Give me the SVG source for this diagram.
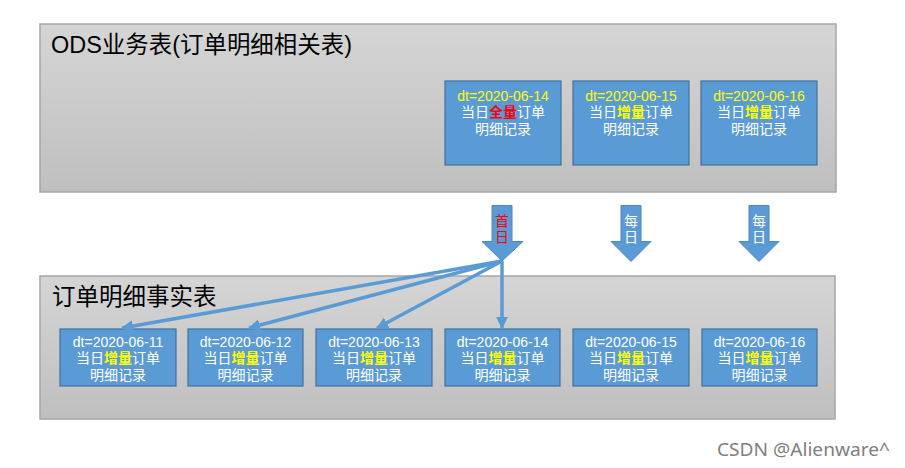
<svg xmlns="http://www.w3.org/2000/svg" width="905" height="468" viewBox="0 0 905 468">
<defs>
<linearGradient id="g" x1="0" y1="0" x2="0" y2="1">
<stop offset="0" stop-color="#d5d5d5"/>
<stop offset="1" stop-color="#bfbfbf"/>
</linearGradient>
<marker id="ah" markerUnits="userSpaceOnUse" markerWidth="12" markerHeight="12" viewBox="0 0 12 12" refX="11" refY="6" orient="auto">
<path d="M0,0 L12,6 L0,12 Z" fill="#5b9bd5"/>
</marker>
<style>
.cont{fill:url(#g);stroke:#a6a6a6;stroke-width:1.5}
.box{fill:#5b9bd5;stroke:#41719c;stroke-width:1.2}
.arr{fill:#5b9bd5;stroke:#4f88bd;stroke-width:1}
.t{font-family:"Liberation Sans","Noto Sans CJK SC",sans-serif;font-size:14px;fill:#ffffff;text-anchor:middle}
.y{fill:#ffff00}
.b{font-weight:bold}
.r{fill:#ff0000}
.title{font-family:"Liberation Sans","Noto Sans CJK SC",sans-serif;font-size:23.5px;fill:#000000}
.conn{stroke:#5b9bd5;stroke-width:3.5;fill:none;marker-end:url(#ah)}
</style>
</defs>
<rect width="905" height="468" fill="#ffffff"/>

<g id="ods">
<rect class="cont" x="40" y="24" width="796" height="168"/>
<text class="title" x="51" y="53" textLength="301" lengthAdjust="spacingAndGlyphs">ODS业务表(订单明细相关表)</text>
</g>

<g id="ods14">
<rect class="box" x="445" y="81" width="116" height="84"/>
<text class="t y" x="503" y="100.5">dt=2020-06-14</text>
<text class="t" x="503" y="117">当日<tspan class="b r">全量</tspan>订单</text>
<text class="t" x="503" y="134">明细记录</text>
</g>
<g id="ods15">
<rect class="box" x="573" y="81" width="116" height="84"/>
<text class="t y" x="631" y="100.5">dt=2020-06-15</text>
<text class="t" x="631" y="117">当日<tspan class="b y">增量</tspan>订单</text>
<text class="t" x="631" y="134">明细记录</text>
</g>
<g id="ods16">
<rect class="box" x="701" y="81" width="116" height="84"/>
<text class="t y" x="759" y="100.5">dt=2020-06-16</text>
<text class="t" x="759" y="117">当日<tspan class="b y">增量</tspan>订单</text>
<text class="t" x="759" y="134">明细记录</text>
</g>

<g id="fact">
<rect class="cont" x="40" y="276" width="795" height="143"/>
<text class="title" x="52" y="305">订单明细事实表</text>
</g>

<g id="arrow1">
<path class="arr" d="M492,205.5 H512 V241.5 H523 L502,261 L482,241.5 H492 Z"/>
<text class="t r" x="502" y="226">首</text>
<text class="t r" x="502" y="242">日</text>
</g>
<g id="arrow2">
<path class="arr" d="M621,205.5 H641 V241.5 H651 L631,261.5 L611,241.5 H621 Z"/>
<text class="t" x="631" y="226">每</text>
<text class="t" x="631" y="242">日</text>
</g>
<g id="arrow3">
<path class="arr" d="M749,205.5 H769 V241.5 H779 L759,261.5 L739,241.5 H749 Z"/>
<text class="t" x="759" y="226">每</text>
<text class="t" x="759" y="242">日</text>
</g>

<g id="f11">
<rect class="box" x="60" y="329" width="116" height="57"/>
<text class="t" x="118" y="346.5">dt=2020-06-11</text>
<text class="t" x="118" y="363">当日<tspan class="b y">增量</tspan>订单</text>
<text class="t" x="118" y="380">明细记录</text>
</g>
<g id="f12">
<rect class="box" x="188" y="329" width="115" height="57"/>
<text class="t" x="245.5" y="346.5">dt=2020-06-12</text>
<text class="t" x="245.5" y="363">当日<tspan class="b y">增量</tspan>订单</text>
<text class="t" x="245.5" y="380">明细记录</text>
</g>
<g id="f13">
<rect class="box" x="316" y="329" width="116" height="57"/>
<text class="t" x="374" y="346.5">dt=2020-06-13</text>
<text class="t" x="374" y="363">当日<tspan class="b y">增量</tspan>订单</text>
<text class="t" x="374" y="380">明细记录</text>
</g>
<g id="f14">
<rect class="box" x="445" y="329" width="115" height="57"/>
<text class="t" x="502.5" y="346.5">dt=2020-06-14</text>
<text class="t" x="502.5" y="363">当日<tspan class="b y">增量</tspan>订单</text>
<text class="t" x="502.5" y="380">明细记录</text>
</g>
<g id="f15">
<rect class="box" x="573" y="329" width="116" height="57"/>
<text class="t" x="631" y="346.5">dt=2020-06-15</text>
<text class="t" x="631" y="363">当日<tspan class="b y">增量</tspan>订单</text>
<text class="t" x="631" y="380">明细记录</text>
</g>
<g id="f16">
<rect class="box" x="702" y="329" width="115" height="57"/>
<text class="t" x="759.5" y="346.5">dt=2020-06-16</text>
<text class="t" x="759.5" y="363">当日<tspan class="b y">增量</tspan>订单</text>
<text class="t" x="759.5" y="380">明细记录</text>
</g>

<g id="connectors">
<line class="conn" x1="502" y1="261" x2="122" y2="328"/>
<line class="conn" x1="502" y1="261" x2="249" y2="328"/>
<line class="conn" x1="502" y1="261" x2="377" y2="328"/>
<line class="conn" x1="502" y1="261" x2="502" y2="328"/>
</g>

<text x="717" y="456" font-family="'Noto Sans',sans-serif" font-size="18.5" fill="#7f7f7f" textLength="173" lengthAdjust="spacingAndGlyphs">CSDN @Alienware^</text>
</svg>
